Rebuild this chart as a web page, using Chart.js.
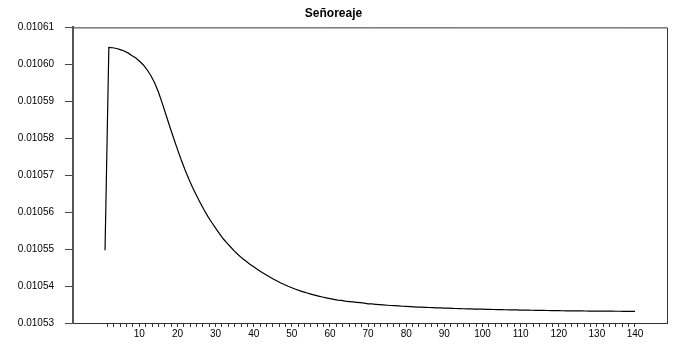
<!DOCTYPE html>
<html>
<head>
<meta charset="utf-8">
<script src="https://cdn.jsdelivr.net/npm/chart.js@4/dist/chart.umd.min.js"></script>
<style>
  html, body { margin: 0; padding: 0; background: #fff; }
  #wrap { width: 675px; height: 345px; }
</style>
</head>
<body>
<div id="wrap"><canvas id="chart" width="675" height="345"></canvas></div>
<script>
const chartTitle = 'Señoreaje';

const periods = [
  1, 2, 3, 4, 5, 6, 7, 8, 9, 10, 11, 12, 13, 14, 15, 16, 17, 18, 19, 20,
  21, 22, 23, 24, 25, 26, 27, 28, 29, 30, 31, 32, 33, 34, 35, 36, 37, 38, 39, 40,
  41, 42, 43, 44, 45, 46, 47, 48, 49, 50, 51, 52, 53, 54, 55, 56, 57, 58, 59, 60,
  61, 62, 63, 64, 65, 66, 67, 68, 69, 70, 71, 72, 73, 74, 75, 76, 77, 78, 79, 80,
  81, 82, 83, 84, 85, 86, 87, 88, 89, 90, 91, 92, 93, 94, 95, 96, 97, 98, 99, 100,
  101, 102, 103, 104, 105, 106, 107, 108, 109, 110, 111, 112, 113, 114, 115, 116, 117, 118, 119, 120,
  121, 122, 123, 124, 125, 126, 127, 128, 129, 130, 131, 132, 133, 134, 135, 136, 137, 138, 139, 140
];

const senoreaje = [
  0.0105497, 0.0106046, 0.0106045, 0.0106043, 0.0106040, 0.0106036, 0.0106031, 0.0106024, 0.0106018, 0.0106009,
  0.0105999, 0.0105986, 0.0105970, 0.0105950, 0.0105925, 0.0105895, 0.0105863, 0.0105831, 0.0105800, 0.0105770,
  0.0105741, 0.0105714, 0.0105689, 0.0105666, 0.0105645, 0.0105625, 0.0105606, 0.0105588, 0.0105572, 0.0105557,
  0.0105542, 0.0105528, 0.0105516, 0.0105505, 0.0105494, 0.0105484, 0.0105475, 0.0105467, 0.0105459, 0.0105452,
  0.0105445, 0.0105438, 0.0105432, 0.0105426, 0.0105420, 0.01054145, 0.0105409, 0.0105404, 0.01053995, 0.01053953,
  0.01053914, 0.01053877, 0.01053843, 0.01053811, 0.01053781, 0.01053753, 0.01053727, 0.01053703, 0.0105368, 0.0105366,
  0.01053641, 0.0105362, 0.0105361, 0.0105359, 0.0105358, 0.0105357, 0.0105356, 0.0105355, 0.0105354, 0.0105352,
  0.01053515, 0.01053505, 0.01053497, 0.01053489, 0.01053481, 0.01053474, 0.01053468, 0.01053461, 0.01053454, 0.01053449,
  0.01053443, 0.01053438, 0.01053432, 0.01053427, 0.01053423, 0.01053419, 0.01053415, 0.01053411, 0.01053407, 0.01053403,
  0.01053400, 0.01053396, 0.01053392, 0.01053389, 0.01053386, 0.01053384, 0.01053381, 0.01053378, 0.01053376, 0.01053373,
  0.01053370, 0.01053368, 0.01053365, 0.01053362, 0.01053360, 0.01053358, 0.01053356, 0.01053355, 0.01053353, 0.01053351,
  0.01053349, 0.01053347, 0.01053345, 0.01053343, 0.01053341, 0.01053339, 0.01053338, 0.01053336, 0.01053335, 0.01053333,
  0.01053331, 0.01053330, 0.01053329, 0.01053328, 0.01053327, 0.01053326, 0.01053325, 0.01053324, 0.01053323, 0.01053322,
  0.01053321, 0.01053320, 0.01053320, 0.01053319, 0.01053318, 0.01053318, 0.01053317, 0.01053317, 0.01053316, 0.01053316
];

// labelled x ticks and the y tick values
const xMajorTicks = [10, 20, 30, 40, 50, 60, 70, 80, 90, 100, 110, 120, 130, 140];
const yTicks = [0.01053, 0.01054, 0.01055, 0.01056, 0.01057, 0.01058, 0.01059, 0.01060, 0.01061];

const FONT = 'Arial, "Liberation Sans", Helvetica, sans-serif';

// frame round the plot area (top and right sides)
const frame = {
  id: 'frame',
  afterDraw(chart) {
    const { ctx, chartArea: a } = chart;
    ctx.save();
    ctx.strokeStyle = '#333';
    ctx.lineWidth = 1;
    ctx.beginPath();
    ctx.moveTo(a.left, a.top + 0.5);
    ctx.lineTo(a.right + 0.5, a.top + 0.5);
    ctx.lineTo(a.right + 0.5, a.bottom);
    ctx.stroke();
    ctx.restore();
  }
};

new Chart(document.getElementById('chart'), {
  type: 'line',
  data: {
    datasets: [{
      label: chartTitle,
      data: periods.map((p, i) => ({ x: p, y: senoreaje[i] })),
      borderColor: '#000',
      borderWidth: 1.2,
      pointRadius: 0,
      tension: 0,
      fill: false
    }]
  },
  options: {
    responsive: false,
    animation: false,
    devicePixelRatio: 1,
    layout: { padding: { left: 0, right: 8, top: 0, bottom: 0 } },
    plugins: {
      legend: { display: false },
      tooltip: { enabled: false },
      title: {
        display: true,
        text: chartTitle,
        color: '#000',
        font: { family: FONT, size: 12, weight: 'bold' },
        padding: { top: 6, bottom: 7 }
      }
    },
    scales: {
      x: {
        type: 'linear',
        min: -7.4,
        max: 148.4,
        afterBuildTicks(scale) {
          // minor ticks: five between each labelled tick
          const ticks = [];
          const step = 10 / 6;
          for (let i = 1; i * step <= xMajorTicks[xMajorTicks.length - 1] + 1e-9; i++) {
            ticks.push({ value: i * step });
          }
          scale.ticks = ticks;
        },
        afterFit(scale) { scale.height = 22; },
        ticks: {
          autoSkip: false,
          maxRotation: 0,
          padding: 1,
          color: '#000',
          font: { family: FONT, size: 10 },
          callback(v) {
            const m = xMajorTicks.find(t => Math.abs(t - v) < 1e-6);
            return m === undefined ? '' : String(m);
          }
        },
        grid: { drawOnChartArea: false, drawTicks: true, tickLength: 4, color: '#333' },
        border: { display: true, color: '#333', width: 1 }
      },
      y: {
        type: 'linear',
        min: yTicks[0],
        max: yTicks[yTicks.length - 1],
        afterBuildTicks(scale) {
          scale.ticks = yTicks.map(v => ({ value: v }));
        },
        afterFit(scale) { scale.width = 73; },
        ticks: {
          padding: 11,
          color: '#000',
          font: { family: FONT, size: 10 },
          callback(v) { return v.toFixed(5); }
        },
        grid: { drawOnChartArea: false, drawTicks: true, tickLength: 8, color: '#444' },
        border: { display: true, color: '#555', width: 2 }
      }
    }
  },
  plugins: [frame]
});
</script>
</body>
</html>
